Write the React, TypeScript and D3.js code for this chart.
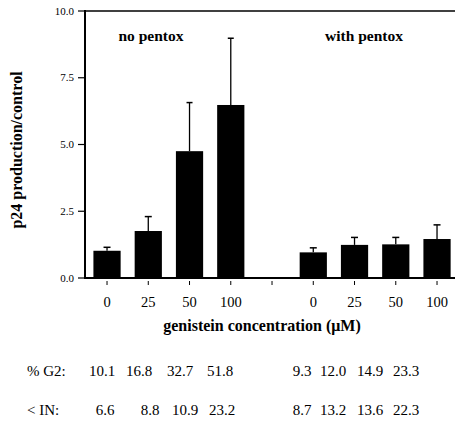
import React from "react";
import * as d3 from "d3";

const categories = ["0", "25", "50", "100", "", "0", "25", "50", "100"];
const groupNo = [1.02, 1.76, 4.75, 6.48];
const errNo = [1.15, 2.3, 6.57, 8.98];
const groupWith = [0.96, 1.24, 1.26, 1.46];
const errWith = [1.13, 1.52, 1.52, 1.99];
const yTicks = [0, 2.5, 5.0, 7.5, 10.0];
const rowG2 = ["10.1", "16.8", "32.7", "51.8", "9.3", "12.0", "14.9", "23.3"];
const rowIN = ["6.6", "8.8", "10.9", "23.2", "8.7", "13.2", "13.6", "22.3"];

const W = 455;
const H = 423;
const left = 85;
const top = 11;
const bottom = 278;

const serif = "'Liberation Serif', serif";

export default function App() {
  const slots = d3.range(categories.length).map(String);
  const x = d3.scaleBand<string>().domain(slots).range([86.4, 86.4 + 41.25 * 9]).paddingInner(0.34).paddingOuter(0.17);
  const y = d3.scaleLinear().domain([0, 10]).range([bottom, top]);

  const bars: { slot: number; v: number; e: number }[] = [];
  groupNo.forEach((v, i) => bars.push({ slot: i, v, e: errNo[i] }));
  groupWith.forEach((v, i) => bars.push({ slot: i + 5, v, e: errWith[i] }));

  const center = (i: number) => (x(String(i)) as number) + x.bandwidth() / 2;
  const g2x = [102, 139, 180, 220, 302, 333, 370, 406];
  const inx = [105, 150, 185, 222, 302, 333, 370, 406];
  const ts = { fontFamily: serif };

  return (
    <svg width={W} height={H} style={{ position: "absolute", left: 0, top: 0, background: "#fff", fontFamily: serif }}>
      {bars.map((b, i) => {
        const cx = center(b.slot);
        const cap = b.e - b.v > 1.5 ? 3 : 3.5;
        return (
          <g key={i}>
            <line x1={cx} x2={cx} y1={y(b.v)} y2={y(b.e)} stroke="#000" strokeWidth={1.3} />
            <line x1={cx - cap} x2={cx + cap} y1={y(b.e)} y2={y(b.e)} stroke="#000" strokeWidth={1.5} />
            <rect x={x(String(b.slot))} y={y(b.v)} width={x.bandwidth()} height={bottom - y(b.v)} fill="#000" />
          </g>
        );
      })}
      <line x1={left} x2={left} y1={top - 1} y2={bottom + 1} stroke="#000" strokeWidth={2} />
      <line x1={left} x2={W} y1={bottom} y2={bottom} stroke="#000" strokeWidth={2} />
      <line x1={left} x2={W} y1={top} y2={top} stroke="#000" strokeWidth={1.5} />
      {yTicks.map((t) => (
        <g key={t}>
          <line x1={left - 7} x2={left} y1={y(t)} y2={y(t)} stroke="#000" strokeWidth={1.2} />
          <text style={ts} x={left - 11} y={y(t) + 3.5} fontSize={11} textAnchor="end">{t.toFixed(1)}</text>
        </g>
      ))}
      {categories.map((c, i) => (
        <g key={i}>
          <line x1={center(i)} x2={center(i)} y1={bottom + 3} y2={bottom + 7} stroke="#000" strokeWidth={1} />
          <text style={ts} x={center(i)} y={307} fontSize={14.5} textAnchor="middle">{c}</text>
        </g>
      ))}
      <text style={ts} x={262} y={331} fontSize={16} fontWeight="bold" textAnchor="middle">genistein concentration (μM)</text>
      <text style={ts} transform={`translate(22,150) rotate(-90)`} fontSize={16} fontWeight="bold" textAnchor="middle">p24 production/control</text>
      <text style={ts} x={151} y={41} fontSize={15.5} fontWeight="bold" textAnchor="middle">no pentox</text>
      <text style={ts} x={364} y={41} fontSize={15.5} fontWeight="bold" textAnchor="middle">with pentox</text>
      <text style={ts} x={27} y={376} fontSize={15}>% G2:</text>
      <text style={ts} x={27} y={415} fontSize={15}>&lt; IN:</text>
      {rowG2.map((v, i) => (
        <text style={ts} key={"g" + i} x={g2x[i]} y={376} fontSize={15} textAnchor="middle">{v}</text>
      ))}
      {rowIN.map((v, i) => (
        <text style={ts} key={"n" + i} x={inx[i]} y={415} fontSize={15} textAnchor="middle">{v}</text>
      ))}
    </svg>
  );
}
